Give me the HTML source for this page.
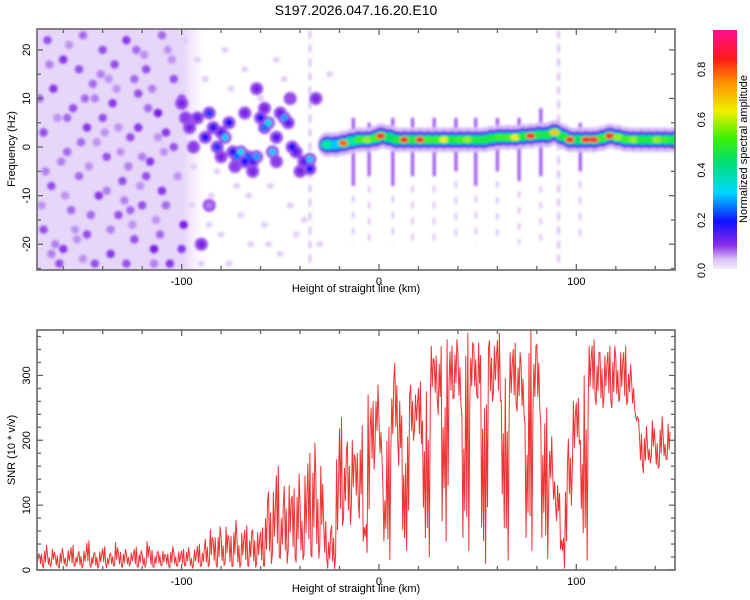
<!DOCTYPE html>
<html><head><meta charset="utf-8"><style>
html,body{margin:0;padding:0;background:#fff}
svg{display:block;font-family:"Liberation Sans",sans-serif}
</style></head><body>
<svg id="chart" width="750" height="600" viewBox="0 0 750 600" xmlns="http://www.w3.org/2000/svg">
<defs>
<clipPath id="clipTop"><rect x="37" y="29" width="638" height="241"/></clipPath>
<clipPath id="clipBot"><rect x="37" y="330" width="638" height="241"/></clipPath>
<filter id="blur" x="-50%" y="-50%" width="200%" height="200%"><feGaussianBlur stdDeviation="1.3"/></filter>
<linearGradient id="fade" x1="0" y1="0" x2="1" y2="0">
<stop offset="0" stop-color="#e6d6f8"/><stop offset="1" stop-color="#ffffff" stop-opacity="0"/>
</linearGradient>
<linearGradient id="cbar" x1="0" y1="1" x2="0" y2="0">
<stop offset="0" stop-color="#f4ecfd"/><stop offset="0.04" stop-color="#d9c2f7"/><stop offset="0.1" stop-color="#8a2be8"/>
<stop offset="0.2" stop-color="#1010ff"/><stop offset="0.32" stop-color="#00d8ff"/><stop offset="0.45" stop-color="#00e070"/>
<stop offset="0.55" stop-color="#40f000"/><stop offset="0.66" stop-color="#f0f000"/><stop offset="0.78" stop-color="#ff9000"/>
<stop offset="0.88" stop-color="#ff1a1a"/><stop offset="1" stop-color="#ff1090"/>
</linearGradient>
</defs>
<text x="356" y="15" text-anchor="middle" font-size="14" fill="#000">S197.2026.047.16.20.E10</text>
<g id="top"></g>
<g id="bot"></g>
<g id="cb">
<rect x="713" y="30" width="24" height="239" fill="url(#cbar)"/>
<text transform="translate(747,149) rotate(-90)" text-anchor="middle" font-size="11">Normalized spectral amplitude</text>
</g>
</svg>
<script>
// ---- data ----
var xDomain = [-173.3, 150];
var freqDomain = [-25.1, 24.3];
var snrDomain = [0, 370];
var cbDomain = [0, 0.955];
var xTicks = [-100, 0, 100];
var freqTicks = [-20, -10, 0, 10, 20];
var snrTicks = [0, 100, 200, 300];
var cbTicks = [0.0, 0.2, 0.4, 0.6, 0.8];

var noiseKm = [-168,-160,-150,-140,-128,-118,-110,-104,-165,-155,-145,-135,-122,-112,-100,-108,-170,-158,-148,-138,-126,-116,-104,-166,-152,-142,-130,-120,-110,-99,-170,-160,-148,-136,-124,-114,-106,-132,-156,-162,-144,-118,-134,-152,-122,-140,-128,-172,-100,-163,-147,-131,-113,-171,-137,-119,-153,-125,-107,-143,
 -167,-157,-149,-141,-133,-123,-115,-105,-161,-151,-139,-127,-117,-109,-169,-159,-146,-129,-121,-111,-164,-154,-136,-126,-114,-102,-158,-144,-132,-120,-108,-166,-150,-138,-124,-112];
var noiseFreq = [22,18,23,20,22,16,23,14,12,8,13,9,11,7,10,3,3,-1,4,-2,2,-3,0,-8,-6,-10,-7,-12,-9,-16,-17,-21,-18,-22,-19,-21,-24,-14,-13,-24,-24,-6,17,16,4,6,-24,10,-21,6,-4,-1,-15,-12,14,19,-19,-16,20,1,
 17,21,10,15,12,20,12,18,-3,1,3,-4,8,-1,-5,-10,-14,-11,-8,-18,-20,-17,-17,-13,-24,-6,6,10,4,-2,-12,-22,-23,-9,14,2];
var noiseAmp = [0.1,0.11,0.09,0.1,0.11,0.1,0.09,0.1,0.11,0.1,0.09,0.11,0.1,0.12,0.1,0.11,0.1,0.09,0.11,0.1,0.1,0.11,0.1,0.1,0.09,0.11,0.1,0.1,0.11,0.12,0.1,0.11,0.1,0.11,0.1,0.12,0.11,0.1,0.09,0.1,0.1,0.1,0.1,0.1,0.11,0.1,0.1,0.09,0.11,0.07,0.07,0.07,0.07,0.07,0.07,0.07,0.07,0.07,0.07,0.07,
 0.08,0.07,0.09,0.08,0.07,0.09,0.08,0.07,0.08,0.09,0.07,0.08,0.09,0.07,0.08,0.07,0.09,0.08,0.07,0.09,0.08,0.07,0.08,0.09,0.08,0.07,0.09,0.08,0.07,0.08,0.09,0.08,0.07,0.08,0.09,0.07];

var sparseKm = [-92,-88,-85,-80,-75,-70,-65,-60,-55,-50,-90,-78,-68,-45,-58,-82,-48,-95,-38,-30,-25,-72,-94,-86,-76,-66,-56,-52,-42,-98];
var sparseFreq = [18,14,-10,-18,12,-14,-20,10,-8,-22,-24,20,16,-12,-16,-5,14,-12,-15,-20,15,-8,-4,-16,-24,-10,-20,18,-18,22];

var clusterKm = [-96,-92,-88,-86,-84,-82,-80,-78,-76,-74,-72,-70,-68,-66,-64,-62,-60,-58,-56,-54,-52,-50,-48,-46,-44,-42,-40,-38,-35,-35,-58,-68,-100,-62,-45,-32,-86,-90,-94,-80,-73,-64,-52,-98];
var clusterFreq = [4,6,2,7,4,0,3,2,5,-1,-2,-1,-3,-2,-3,-2,6,4,5,-1,2,7,6,5,0,-1,-5,-3,-2.5,-4.5,8,7,9,12,10,10,-12,-20,0,-2,-4,-5,-3,6];
var clusterAmp = [0.12,0.13,0.2,0.22,0.18,0.22,0.15,0.3,0.2,0.18,0.25,0.32,0.2,0.24,0.15,0.28,0.2,0.25,0.32,0.3,0.15,0.13,0.28,0.15,0.2,0.14,0.12,0.14,0.3,0.2,0.12,0.12,0.12,0.12,0.1,0.12,0.08,0.12,0.11,0.12,0.11,0.12,0.11,0.11];

var ridgeKm = [-26,-22,-18,-14,-10,-6,-2,1,5,9,13,17,21,25,29,33,37,41,45,49,53,57,61,65,69,73,77,81,85,89,93,97,101,105,109,113,117,121,125,129,133,137,141,145,149];
var ridgeFreq = [0.5,0.5,0.8,1.2,1.5,1.5,1.8,2.3,2,1.5,1.5,1.5,1.5,1.5,1.5,1.5,1.5,1.5,1.5,1.5,1.5,1.8,2,2,2,2.2,2.3,2.5,2.5,3,2.2,1.5,1.5,1.5,1.5,1.8,2.3,2,1.6,1.5,1.5,1.5,1.5,1.5,1.5];
var ridgeAmp = [0.4,0.3,0.8,0.4,0.55,0.6,0.55,0.85,0.45,0.5,0.85,0.5,0.85,0.55,0.55,0.65,0.5,0.55,0.6,0.5,0.5,0.5,0.55,0.55,0.65,0.5,0.85,0.5,0.5,0.7,0.5,0.85,0.45,0.85,0.85,0.55,0.85,0.6,0.55,0.6,0.5,0.5,0.6,0.55,0.5];

var streakKm = [-35,-13,-5,7,17,28,39,49,60,71,82,91,102];
var streakLo = [-25,-8,-6,-8,-6,-6,-5,-8,-5,-7,-6,-25,-5];
var streakHi = [24,6,5,6,6,6,6,6,6,6,8,24,5];

var snrLow = [4,6,3,5,8,4,3,6,5,4,7,3,5,6,4,3,5,7,4,6,3,5,4,6,8,3,5,4,6,3,5,7,4,5,3,6,4,5,7,3,5,4,6,
 5,3,6,4,7,5,3,6,4,5,3,6,4,5,3,6,
 10,15,12,18,10,20,14,12,16,10,15,
 20,18,22,15,
 3,2,4,
 60,80,70,90,100,80,70,
 0,
 150,190,170,140,
 5,
 180,200,150,170,
 30,
 200,210,190,
 230,
 20,
 250,260,240,250,
 10,
 260,265,255,260,
 12,
 260,270,255,260,
 10,
 260,265,255,262,
 15,
 240,250,245,240,245,
 12,
 240,250,245,
 5,
 120,100,70,50,
 3,
 100,150,190,200,
 15,
 250,260,255,250,260,255,250,260,255,250,260,250,240,
 160,150,165,170,155,160,170,165,160];
var snrHigh = [30,25,40,28,32,22,35,27,30,38,25,33,29,45,26,31,28,36,24,30,42,27,33,29,26,35,31,28,44,30,27,33,29,25,38,30,28,32,36,27,31,40,34,
 55,62,50,70,58,66,52,80,60,57,68,62,72,58,65,
 110,140,120,160,105,150,130,125,155,115,145,
 180,205,170,160,
 75,60,80,
 170,235,190,220,200,180,230,
 40,
 270,260,290,240,
 45,
 220,300,340,260,
 50,
 280,300,270,
 290,
 40,
 320,345,330,350,
 45,
 355,345,360,350,
 50,
 365,355,360,350,
 45,
 360,370,345,365,
 55,
 345,335,350,340,330,
 50,
 370,350,365,
 50,
 250,210,160,130,
 30,
 170,220,260,265,
 50,
 350,345,355,340,350,330,345,350,340,335,345,320,300,
 230,210,225,200,230,195,240,210,225];

// ---- helpers ----
var NS = "http://www.w3.org/2000/svg";
var PX0 = 37, PX1 = 675;
function xs(v){ return PX0 + (v - xDomain[0]) / (xDomain[1] - xDomain[0]) * (PX1 - PX0); }
function fy(v){ return 269 - (v - freqDomain[0]) / (freqDomain[1] - freqDomain[0]) * 240; }
function sy(v){ return 570 - (v - snrDomain[0]) / (snrDomain[1] - snrDomain[0]) * 240; }
function cy(v){ return 270.5 - (v - cbDomain[0]) / (cbDomain[1] - cbDomain[0]) * 240; }
var stops = [[0,[255,255,255]],[0.03,[236,224,250]],[0.08,[178,127,240]],[0.12,[122,30,230]],[0.2,[16,16,255]],[0.3,[0,200,255]],[0.36,[0,240,224]],[0.45,[0,224,96]],[0.55,[64,240,0]],[0.65,[240,240,0]],[0.75,[255,160,0]],[0.85,[255,32,32]],[0.95,[255,16,128]]];
function cmap(a){
  if (a <= stops[0][0]) return "rgb(255,255,255)";
  for (var i = 1; i < stops.length; i++){
    if (a <= stops[i][0]){
      var t = (a - stops[i-1][0]) / (stops[i][0] - stops[i-1][0]);
      var c0 = stops[i-1][1], c1 = stops[i][1];
      return "rgb(" + [0,1,2].map(function(k){ return Math.round(c0[k] + (c1[k]-c0[k])*t); }).join(",") + ")";
    }
  }
  var l = stops[stops.length-1][1]; return "rgb(" + l.join(",") + ")";
}
function mk(tag, attrs, parent){
  var e = document.createElementNS(NS, tag);
  for (var k in attrs) e.setAttribute(k, attrs[k]);
  parent.appendChild(e); return e;
}

var topG = document.getElementById("top");
var botG = document.getElementById("bot");

// ---- spectrogram ----
var sg = mk("g", {"clip-path":"url(#clipTop)"}, topG);


var bgRect = mk("rect", {x:xs(-173.3), y:29, width:xs(-99)-xs(-173.3), height:241, fill:"#e6d6f8"}, sg);


var fadeRect = mk("rect", {x:xs(-99), y:29, width:xs(-85)-xs(-99), height:241, fill:"url(#fade)"}, sg);


var bl = mk("g", {filter:"url(#blur)"}, sg);
for (var i = 0; i < noiseKm.length; i++){
  var e = mk("ellipse", {cx:xs(noiseKm[i]), cy:fy(noiseFreq[i]), rx:4.2, ry:4.2, fill:cmap(noiseAmp[i])}, bl);
  
  
}
for (var i = 0; i < sparseKm.length; i++){
  var e = mk("ellipse", {cx:xs(sparseKm[i]), cy:fy(sparseFreq[i]), rx:3.5, ry:3, fill:cmap(0.04)}, bl);
  
  
}
for (var i = 0; i < streakKm.length; i++){
  var full = (streakHi[i] - streakLo[i]) > 30;
  var e = mk("line", {x1:xs(streakKm[i]), x2:xs(streakKm[i]), y1:fy(streakHi[i]), y2:fy(streakLo[i]), stroke:cmap(full?0.045:0.1), "stroke-width":3, "stroke-dasharray":full?"8 6":"none"}, bl);
  
  
  if (!full){
    var e2 = mk("line", {x1:xs(streakKm[i]), x2:xs(streakKm[i]), y1:fy(streakLo[i]-2), y2:fy(-20), stroke:cmap(0.045), "stroke-width":2.5, "stroke-dasharray":"7 9"}, bl);
    
    
  }
}
for (var i = 0; i < clusterKm.length; i++){
  var h = mk("ellipse", {cx:xs(clusterKm[i]), cy:fy(clusterFreq[i]), rx:6.5, ry:6.5, fill:cmap(0.1)}, bl);
  
  
}
for (var i = 0; i < clusterKm.length; i++){
  var e = mk("ellipse", {cx:xs(clusterKm[i]), cy:fy(clusterFreq[i]), rx:3.5, ry:3.5, fill:cmap(clusterAmp[i])}, bl);
  
  
}
// ridge layers: [amplitude level (or -1 = use data), rx, ry]
var layers = [[0.05,10,12.5],[0.12,9,8.5],[0.2,8,7],[0.42,7,5],[-1,5,3]];
layers.forEach(function(L){
  for (var i = 0; i < ridgeKm.length; i++){
    var a = L[0] < 0 ? ridgeAmp[i] : Math.min(L[0], ridgeAmp[i]);
    var e = mk("ellipse", {cx:xs(ridgeKm[i]), cy:fy(ridgeFreq[i]), rx:L[1], ry:L[2], fill:cmap(a)}, bl);
    
    
  }
});

// ---- frame & ticks ----
function frame(g, y0, y1, name){
  var r = mk("rect", {x:PX0, y:y0, width:PX1-PX0, height:y1-y0, fill:"none", stroke:"#666", "stroke-width":1.6}, g);
  
  
}
function tick(g, x1, y1, x2, y2){
  var t = mk("line", {x1:x1, y1:y1, x2:x2, y2:y2, stroke:"#666", "stroke-width":1.3}, g);
  
  
}
function label(g, x, y, txt, rot, name, size){
  var t = mk("text", {x:0, y:0, "font-size":size||11, "text-anchor":"middle", transform:"translate("+x+","+y+")"+(rot?" rotate(-90)":"")}, g);
  t.textContent = txt;
  
  
}
function xAxis(g, y0, y1){
  for (var v = -160; v <= 140; v += 20){
    var major = xTicks.indexOf(v) >= 0, L = major ? 6 : 4;
    tick(g, xs(v), y1, xs(v), y1-L); tick(g, xs(v), y0, xs(v), y0+L);
  }
  xTicks.forEach(function(v){ label(g, xs(v), y1+15, String(v), false, 'x-tick-label'); });
  label(g, 356, y1+22, "Height of straight line (km)", false, 'x-axis-title', 11);
}
frame(topG, 29, 270, 'spectrogram-frame');
xAxis(topG, 29, 270);
for (var v = -25; v <= 24; v += 5){
  var L = freqTicks.indexOf(v) >= 0 ? 6 : 4;
  tick(topG, PX0, fy(v), PX0+L, fy(v)); tick(topG, PX1, fy(v), PX1-L, fy(v));
}
freqTicks.forEach(function(v){ label(topG, 30, fy(v), String(v), true, 'y-tick-label'); });
label(topG, 15, 149, "Frequency (Hz)", true, 'y-axis-title');

// ---- SNR line ----
// each 2-km bin is drawn as a dense zig-zag between its low and high values
var zig = [[0.1,1.0,0.35,0.8],[0.9,0.2,1.0,0.05],[0.0,0.7,0.25,0.95],[0.85,0.15,0.6,0.0]];
var pts = [];
for (var i = 0; i < snrLow.length; i++){
  var km = xDomain[0] + 0.3 + 2*i;
  var z = zig[i % zig.length];
  for (var j = 0; j < 4; j++){
    pts.push([km - 1 + 0.5*j, snrLow[i] + z[j]*(snrHigh[i]-snrLow[i])]);
  }
}
var lg = mk("g", {"clip-path":"url(#clipBot)"}, botG);
var line = mk("polyline", {points:pts.map(function(p){ return xs(p[0]).toFixed(1)+","+sy(p[1]).toFixed(1); }).join(" "), fill:"none", stroke:"#f03434", "stroke-width":1, "stroke-linejoin":"round"}, lg);


frame(botG, 330, 570, 'snr-frame');
xAxis(botG, 330, 570);
for (var v = 0; v <= 360; v += 20){
  var L = snrTicks.indexOf(v) >= 0 ? 6 : 4;
  tick(botG, PX0, sy(v), PX0+L, sy(v)); tick(botG, PX1, sy(v), PX1-L, sy(v));
}
snrTicks.forEach(function(v){ label(botG, 30, sy(v), String(v), true, 'y-tick-label'); });
label(botG, 15, 450, "SNR (10 * v/v)", true, 'y-axis-title');

// ---- colorbar ticks ----
var cbG = document.getElementById("cb");
cbTicks.forEach(function(v){ label(cbG, 705, cy(v), v.toFixed(1), true, 'colorbar-tick-label'); });
</script>
</body></html>
